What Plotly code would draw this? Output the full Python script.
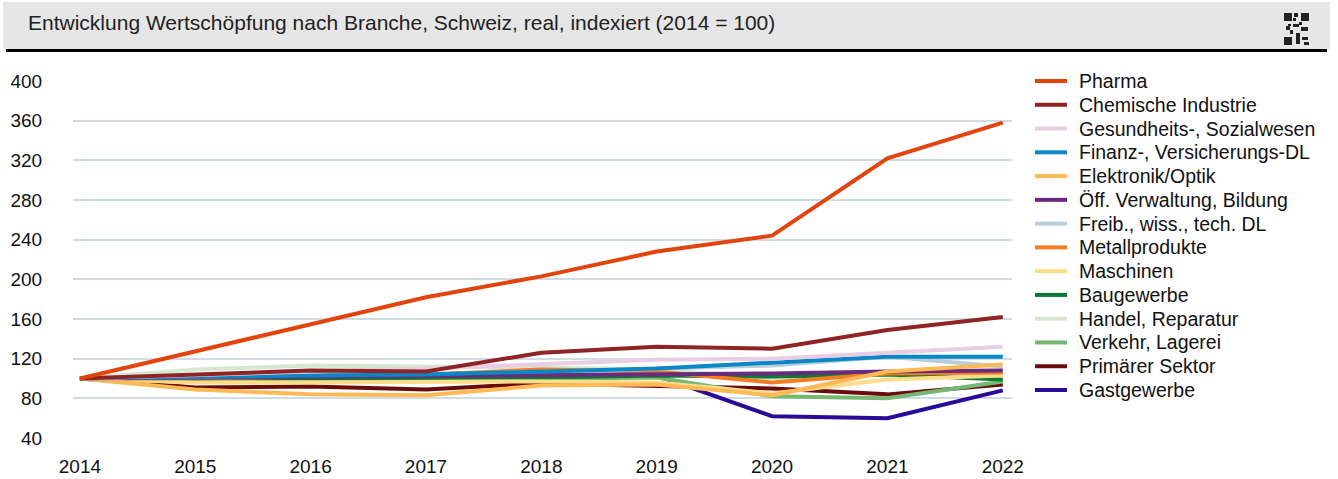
import plotly.graph_objects as go

years = [2014, 2015, 2016, 2017, 2018, 2019, 2020, 2021, 2022]

pharma = [100, 127, 155, 182, 203, 228, 244, 322, 358]
chemie = [100, 104, 108, 107, 126, 132, 130, 149, 162]
gesundheit = [100, 104, 107, 110, 114, 119, 120, 126, 132]
finanz = [100, 101, 103, 104, 107, 110, 116, 122, 122]
elektronik = [100, 89, 84, 83, 93, 94, 83, 107, 114]
verwaltung = [100, 101, 102, 102, 103, 104, 105, 107, 108]
freib = [100, 103, 104, 104, 105, 110, 113, 122, 112]
metall = [100, 100, 102, 104, 109, 107, 96, 105, 106]
maschinen = [100, 96, 96, 97, 97, 96, 85, 99, 103]
bau = [100, 100, 100, 100, 101, 103, 102, 104, 99]
handel = [100, 109, 113, 112, 111, 109, 100, 104, 104]
verkehr = [100, 97, 97, 98, 100, 101, 82, 80, 97]
primaer = [100, 91, 92, 89, 95, 92, 90, 84, 94]
gastgewerbe = [100, 98, 100, 101, 103, 103, 62, 60, 88]

series = [
    ("Pharma", pharma, "#e2440e"),
    ("Chemische Industrie", chemie, "#8e2424"),
    ("Gesundheits-, Sozialwesen", gesundheit, "#e9cde4"),
    ("Finanz-, Versicherungs-DL", finanz, "#0a88c6"),
    ("Elektronik/Optik", elektronik, "#fdb955"),
    ("Öff. Verwaltung, Bildung", verwaltung, "#6a2a7e"),
    ("Freib., wiss., tech. DL", freib, "#b8ceda"),
    ("Metallprodukte", metall, "#f47c22"),
    ("Maschinen", maschinen, "#fedd8a"),
    ("Baugewerbe", bau, "#0b7a32"),
    ("Handel, Reparatur", handel, "#d4e8cf"),
    ("Verkehr, Lagerei", verkehr, "#74b874"),
    ("Primärer Sektor", primaer, "#6b0c0c"),
    ("Gastgewerbe", gastgewerbe, "#2a0a96"),
]

W, H = 1338, 479
L, R, T, B = 73, 326, 81, 41
pw, ph = W - L - R, H - T - B

def px_x(x):
    return (x - L) / pw

def px_y(y):
    return (H - B - y) / ph

fig = go.Figure()
# draw bottom of the legend first so Pharma / Chemie end up on top
for name, vals, col in reversed(series):
    fig.add_trace(go.Scatter(x=years, y=vals, name=name, mode="lines",
                             line=dict(color=col, width=4), showlegend=False))

shapes = [
    dict(type="rect", xref="paper", yref="paper", x0=px_x(3), x1=px_x(1330),
         y0=px_y(2), y1=px_y(49), fillcolor="#e6e6e6", line_width=0, layer="below"),
    dict(type="rect", xref="paper", yref="paper", x0=px_x(6), x1=px_x(1327),
         y0=px_y(49), y1=px_y(52), fillcolor="#000000", line_width=0),
]
# small QR-like mark in the corner
qr = [(1284, 13, 8, 8), (1301, 13, 8, 8), (1284, 37, 8, 8), (1294, 13, 4, 4),
      (1293, 24, 6, 3), (1286, 26, 4, 4), (1301, 27, 7, 4), (1296, 33, 4, 11),
      (1302, 37, 6, 3), (1304, 42, 5, 3), (1290, 30, 3, 4), (1293, 18, 3, 3),
      (1288, 24, 3, 2), (1299, 22, 3, 3)]
for x, y, w, h in qr:
    shapes.append(dict(type="rect", xref="paper", yref="paper", x0=px_x(x), x1=px_x(x + w),
                       y0=px_y(y + h), y1=px_y(y), fillcolor="#222222", line_width=0))

# legend drawn as line samples + labels
annotations = []
for i, (name, vals, col) in enumerate(series):
    yy = 81 + i * 23.77
    shapes.append(dict(type="line", xref="paper", yref="paper", x0=px_x(1035), x1=px_x(1067),
                       y0=px_y(yy), y1=px_y(yy), line=dict(color=col, width=4)))
    annotations.append(dict(text=name, xref="paper", yref="paper", x=px_x(1077), y=px_y(yy),
                            xanchor="left", yanchor="middle", showarrow=False,
                            font=dict(size=19.5, color="#111111")))

fig.update_layout(
    width=W, height=H,
    margin=dict(l=L, r=R, t=T, b=B, autoexpand=False),
    paper_bgcolor="white", plot_bgcolor="white",
    font=dict(family="Arial, Liberation Sans, sans-serif", size=19, color="#111111"),
    title=dict(text="Entwicklung Wertschöpfung nach Branche, Schweiz, real, indexiert (2014 = 100)",
               x=28 / W, xanchor="left", xref="container", y=1 - 23 / H, yanchor="middle",
               yref="container", font=dict(size=21, color="#222222")),
    xaxis=dict(range=[2013.94, 2022.08], tickvals=years, ticktext=[str(y) for y in years],
               showgrid=False, zeroline=False, showline=False, automargin=False,
               ticks="outside", ticklen=11, tickcolor="rgba(0,0,0,0)"),
    yaxis=dict(range=[40, 400], tickvals=list(range(40, 401, 40)), showgrid=True,
               gridcolor="#cfdde3", gridwidth=1.5, zeroline=False, showline=False,
               automargin=False, ticks="outside", ticklen=26, tickcolor="rgba(0,0,0,0)"),
    shapes=shapes,
    annotations=annotations,
    showlegend=False,
)

fig.write_html("out.html", config={"displayModeBar": False},
               post_script="document.body.style.margin='0';")
